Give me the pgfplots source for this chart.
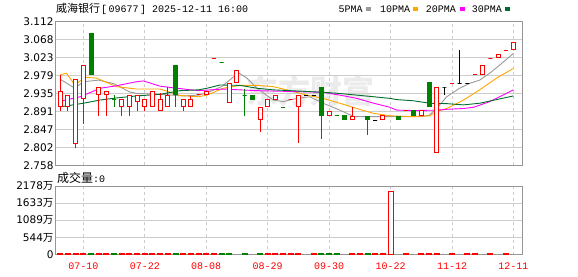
\documentclass[border=0pt]{standalone}
\usepackage{pgfplots}
\pgfplotsset{compat=1.18}
\usepackage{pgfplotstable}
\usepackage{fontspec}
\setmainfont{DejaVu Sans}
\setmonofont{Liberation Mono}
\newfontfamily\cjk{Noto Sans CJK SC}
\definecolor{cred}{RGB}{255,0,0}
\definecolor{cgreen}{RGB}{0,128,0}
\definecolor{ma5}{RGB}{153,153,153}
\definecolor{ma10}{RGB}{255,165,0}
\definecolor{ma20}{RGB}{255,0,255}
\definecolor{ma30}{RGB}{0,110,45}
\definecolor{framec}{RGB}{150,150,150}
\definecolor{gridc}{RGB}{205,205,205}

\pgfdeclareplotmark{candle}{%
  \pgfpathmoveto{\pgfpoint{0pt}{\cwup pt}}%
  \pgfpathlineto{\pgfpoint{0pt}{-\cwdn pt}}%
  \pgfusepathqstroke
  \pgfpathrectangle{\pgfpoint{-2pt}{-\cbh pt}}{\pgfpoint{4pt}{\cbh pt}}%
  \pgfusepathqfillstroke
}
\def\pxu{405.65}
\pgfplotsset{candle/.style={only marks, mark=candle,
  visualization depends on={(\thisrow{hi}-max(\thisrow{o},\thisrow{c}))*\pxu \as \cwup},
  visualization depends on={(max(\thisrow{o},\thisrow{c})-\thisrow{lo})*\pxu \as \cwdn},
  visualization depends on={abs(\thisrow{o}-\thisrow{c})*\pxu \as \cbh},
}}

\pgfplotstableread{
i o c hi lo
0 2.902 2.941 2.981 2.893
1 2.902 2.930 2.930 2.893
2 2.812 2.970 2.970 2.801
3 2.923 3.003 3.003 2.859
5 2.933 2.950 2.950 2.880
6 2.933 2.940 2.940 2.880
8 2.902 2.920 2.920 2.880
9 2.902 2.930 2.930 2.880
10 2.915 2.930 2.930 2.893
11 2.902 2.920 2.920 2.893
12 2.902 2.941 2.941 2.902
13 2.893 2.920 2.935 2.893
14 2.902 2.930 2.950 2.902
16 2.902 2.920 2.920 2.893
17 2.902 2.920 2.930 2.902
18 2.932 2.932 2.932 2.932
19 2.932 2.940 2.940 2.932
20 3.021 3.021 3.021 3.021
22 2.913 2.960 2.960 2.913
23 2.962 2.991 2.991 2.962
26 2.872 2.901 2.901 2.840
27 2.902 2.921 2.921 2.902
28 2.921 2.931 2.931 2.921
30 2.920 2.920 2.920 2.920
31 2.902 2.931 2.931 2.812
35 2.880 2.890 2.890 2.880
38 2.872 2.878 2.901 2.872
42 2.872 2.880 2.880 2.872
45 2.892 2.892 2.892 2.892
47 2.880 2.892 2.892 2.880
49 2.790 2.951 2.951 2.790
51 2.960 2.960 2.960 2.960
54 2.981 2.981 2.981 2.981
55 2.981 3.003 3.003 2.981
56 3.021 3.021 3.021 3.021
57 3.024 3.032 3.032 3.024
58 3.042 3.042 3.042 3.042
59 3.043 3.061 3.061 3.043
}\redc

\pgfplotstableread{
i o c hi lo
4 3.083 2.982 3.083 2.982
7 2.920 2.920 2.931 2.902
15 3.003 2.933 3.003 2.902
21 3.012 3.012 3.012 3.012
24 2.930 2.930 2.947 2.880
25 2.931 2.921 2.931 2.921
29 2.901 2.901 2.901 2.901
34 2.951 2.880 2.951 2.822
36 2.880 2.880 2.880 2.880
37 2.880 2.872 2.880 2.872
40 2.878 2.872 2.878 2.832
44 2.878 2.872 2.878 2.872
46 2.893 2.880 2.893 2.880
48 2.962 2.902 2.962 2.902
}\greenc

\pgfplotstableread{
i o c hi lo
32 2.929 2.929 2.929 2.929
33 2.931 2.931 2.931 2.931
41 2.869 2.869 2.869 2.869
50 2.951 2.951 2.951 2.931
52 2.960 2.960 3.042 2.960
53 2.960 2.960 2.960 2.960
}\blackc

\pgfplotstableread{
i v
0 2.970
1.9 2.948
3 2.964
5 2.968
7 2.959
9 2.939
10 2.935
13 2.933
16 2.929
18 2.931
19 2.936
21 2.952
23.2 2.986
24.3 2.973
25.6 2.948
27.7 2.919
29 2.915
30.8 2.923
32.5 2.927
34.2 2.911
36.4 2.894
38.2 2.878
47 2.878
48 2.881
49 2.898
50.3 2.927
52 2.948
53.3 2.960
54.6 2.968
55.9 2.985
57.2 3.005
59 3.034
}\mafive

\pgfplotstableread{
i v
0 2.981
0.8 2.985
1.9 2.956
3.2 2.975
4.7 2.973
7.3 2.952
9.9 2.946
13 2.946
15.6 2.930
18 2.927
19.1 2.931
21.2 2.948
23.4 2.955
25.6 2.955
27.7 2.952
29.9 2.942
32.1 2.931
34.2 2.923
36.4 2.911
38.6 2.898
40.8 2.886
42.9 2.880
46 2.878
48.1 2.880
49 2.890
50.3 2.898
52.5 2.919
54.6 2.944
56.8 2.973
59 2.997
}\maten

\pgfplotstableread{
i v
0 2.916
2.6 2.927
5.2 2.948
7.3 2.954
9.9 2.964
10.8 2.966
13 2.953
15.6 2.947
18 2.942
21.2 2.946
23.4 2.944
25.6 2.942
29.9 2.940
34.2 2.938
36.4 2.931
38.6 2.923
40.8 2.911
42.9 2.901
43.8 2.894
46 2.893
49 2.894
50.3 2.896
52.5 2.898
53.8 2.901
55.9 2.915
57.2 2.927
59 2.944
}\matwenty

\pgfplotstableread{
i v
0 2.902
3 2.911
5.2 2.919
7.3 2.924
9.9 2.929
13 2.933
15.6 2.942
18 2.944
19.1 2.948
20.8 2.956
23.4 2.955
25.6 2.948
27.7 2.944
29.9 2.942
32.1 2.940
34.2 2.938
36.4 2.935
38.6 2.931
40.8 2.927
42.9 2.923
43.8 2.920
46 2.917
48.1 2.911
50.3 2.910
52.5 2.907
54.6 2.911
56.8 2.920
59 2.929
}\mathirty

\pgfplotstableread{
i v
0 25
1 25
2 25
3 25
5 25
6 25
8 25
9 25
10 25
11 25
12 25
13 25
14 25
16 25
17 25
18 25
19 25
20 25
27 25
28 25
29 25
30 25
31 25
33 25
38 25
39 25
41 25
42 25
43 2010
45 25
47 25
48 25
49 25
51 25
53 25
54 25
56 25
58 25
}\volred

\pgfplotstableread{
i v
4 25
7 25
15 25
21 25
22 25
24 25
26 25
34 25
35 25
36 25
40 25
}\volgreen

\begin{document}
\begin{tikzpicture}
\path[use as bounding box] (0,0) rectangle (578pt,276pt);
% watermark
\node[text=black!8, font=\cjk\bfseries\fontsize{32}{34}\selectfont, inner sep=0] at (310pt,185pt) {东方财富};
% title
\node[anchor=base west, inner sep=0] at (56pt,263.5pt) {{\cjk\fontsize{11}{12}\selectfont 威海银行}{\ttfamily\fontsize{10}{12}\selectfont\kern1pt[\kern1.5pt 09677\kern1.5pt] 2025-12-11 16:00}};
% legend
\node[anchor=base west, inner sep=0, font=\ttfamily\fontsize{10}{12}\selectfont] at (338.3pt,263.3pt) {5PMA};
\fill[ma5] (366pt,264.7pt) rectangle (371pt,268.7pt);
\node[anchor=base west, inner sep=0, font=\ttfamily\fontsize{10}{12}\selectfont] at (380pt,263.3pt) {10PMA};
\fill[ma10] (413.3pt,264.7pt) rectangle (418.3pt,268.7pt);
\node[anchor=base west, inner sep=0, font=\ttfamily\fontsize{10}{12}\selectfont] at (425.7pt,263.3pt) {20PMA};
\fill[ma20] (460pt,264.7pt) rectangle (465pt,268.7pt);
\node[anchor=base west, inner sep=0, font=\ttfamily\fontsize{10}{12}\selectfont] at (471.7pt,263.3pt) {30PMA};
\fill[ma30] (505pt,264.7pt) rectangle (510pt,268.7pt);
% volume caption
\node[anchor=base west, inner sep=0] at (57pt,94pt) {{\cjk\fontsize{12}{13}\selectfont 成交量}{\ttfamily\fontsize{10}{12}\selectfont :0}};

\begin{axis}[
  at={(55.7pt,110.7pt)}, anchor=south west,
  scale only axis, width=467pt, height=143.6pt,
  xmin=-0.6, xmax=60.2, ymin=2.758, ymax=3.112,
  axis line style={framec, line width=1pt},
  xtick={3,11,19,27,35,43,51,59}, xticklabels={},
  ytick={2.758,2.80225,2.8465,2.89075,2.935,2.97925,3.0235,3.06775,3.112},
  yticklabels={2.758,2.802,2.847,2.891,2.935,2.979,3.023,3.068,3.112},
  major tick length=0pt,
  xmajorgrids, ymajorgrids,
  x grid style={dashed, gridc, line width=0.8pt},
  y grid style={gridc, line width=0.8pt},
  yticklabel style={font=\fontsize{10.5}{12}\selectfont, text=black, inner sep=2pt},
  axis on top=false,
]
\addplot[ma5, line width=0.9pt, mark=none] table[x=i, y=v] {\mafive};
\addplot[ma10, line width=0.9pt, mark=none] table[x=i, y=v] {\maten};
\addplot[ma20, line width=0.9pt, mark=none] table[x=i, y=v] {\matwenty};
\addplot[ma30, line width=0.9pt, mark=none] table[x=i, y=v] {\mathirty};
\addplot[candle, mark options={draw=cred, fill=white, line width=1pt, solid}] table[x=i, y expr={max(\thisrow{o},\thisrow{c})}] {\redc};
\addplot[candle, mark options={draw=cgreen, fill=cgreen, line width=1pt, solid}] table[x=i, y expr={max(\thisrow{o},\thisrow{c})}] {\greenc};
\addplot[candle, mark options={draw=black, fill=black, line width=1pt, solid}] table[x=i, y expr={max(\thisrow{o},\thisrow{c})}] {\blackc};
\end{axis}

\begin{axis}[
  at={(55.7pt,21.3pt)}, anchor=south west,
  scale only axis, width=467pt, height=68.7pt,
  xmin=-0.6, xmax=60.2, ymin=0, ymax=2178,
  axis line style={framec, line width=1pt},
  xtick={3,11,19,27,35,43,51,59},
  xticklabels={07-10,07-22,08-08,08-29,09-30,10-22,11-12,12-11},
  xticklabel style={font=\ttfamily\fontsize{10}{12}\selectfont, text=cred, yshift=-4.5pt},
  ytick={0,544,1089,1633,2178},
  yticklabels={0,{544{\cjk 万}},{1089{\cjk 万}},{1633{\cjk 万}},{2178{\cjk 万}}},
  yticklabel style={font=\fontsize{10.5}{12}\selectfont, text=black, inner sep=2pt},
  major tick length=0pt,
  xmajorgrids, ymajorgrids,
  x grid style={dashed, gridc, line width=0.8pt},
  y grid style={gridc, line width=0.8pt},
]
\addplot[ybar, bar width=5pt, bar shift=0pt, draw=cred, fill=white, line width=1pt] table[x=i, y=v] {\volred};
\addplot[ybar, bar width=5pt, bar shift=0pt, draw=cgreen, fill=cgreen, line width=1pt] table[x=i, y=v] {\volgreen};
\end{axis}
\end{tikzpicture}
\end{document}
